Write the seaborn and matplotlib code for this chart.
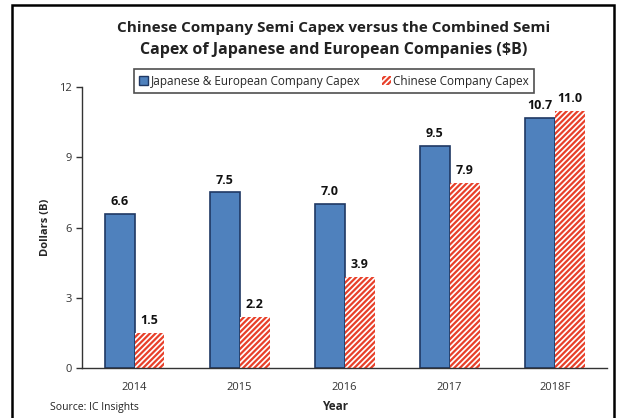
import matplotlib
matplotlib.use("Agg")
import matplotlib.pyplot as plt
import seaborn as sns
import pandas as pd
from matplotlib.patches import Rectangle, Patch
import matplotlib.ticker as mticker

years = ["2014", "2015", "2016", "2017", "2018F"]
japan_europe = [6.6, 7.5, 7.0, 9.5, 10.7]
chinese = [1.5, 2.2, 3.9, 7.9, 11.0]
series_names = ["Japanese & European Company Capex", "Chinese Company Capex"]
y_ticks = [0, 3, 6, 9, 12]

df = pd.DataFrame({
    "Year": years * 2,
    "Value": japan_europe + chinese,
    "Series": [series_names[0]] * len(years) + [series_names[1]] * len(years),
})

sns.set_style("white")
plt.rcParams['font.family'] = ['Open Sans', 'DejaVu Sans']
plt.rcParams['hatch.linewidth'] = 1.6

fig = plt.figure(figsize=(6.26, 4.18), dpi=100)
ax = fig.add_axes([0.131, 0.1196, 0.839, 0.672])

blue = "#4f81bd"
red = "#e8402a"
sns.barplot(data=df, x="Year", y="Value", hue="Series", order=years,
            hue_order=series_names, palette=[blue, "white"], width=0.57,
            gap=0, ax=ax, legend=False, saturation=1)

n = len(years)
for i, p in enumerate(ax.patches[:2 * n]):
    if i < n:
        p.set_edgecolor("#1f3864")
        p.set_linewidth(1.2)
    else:
        p.set_facecolor("white")
        p.set_edgecolor(red)
        p.set_hatch("//////")
        p.set_linewidth(0)

for i, p in enumerate(ax.patches[:2 * n]):
    h = p.get_height()
    ax.text(p.get_x() + p.get_width() / 2, h + 0.25, f"{h:.1f}",
            ha="center", va="bottom", fontsize=9, fontweight="bold", color="#111111")

ax.set_xlim(-0.5, n - 0.5)
ax.set_ylim(0, 12)
ax.set_yticks(y_ticks)
ax.set_yticklabels([str(t) for t in y_ticks], fontsize=8, color="#333333")
ax.set_xticks(range(n))
ax.set_xticklabels(years, fontsize=8, color="#333333")
ax.xaxis.set_minor_locator(mticker.FixedLocator([i - 0.5 for i in range(n + 1)]))
ax.tick_params(axis="x", which="major", length=0, pad=10)
ax.tick_params(axis="x", which="minor", length=4, width=1, direction="out", color="#333333")
ax.tick_params(axis="y", length=4, width=1, direction="out", color="#333333", left=True)
for s in ["top", "right"]:
    ax.spines[s].set_visible(False)
for s in ["left", "bottom"]:
    ax.spines[s].set_color("#333333")
    ax.spines[s].set_linewidth(1)
ax.set_xlabel("")
ax.set_ylabel("Dollars (B)", fontsize=8, fontweight="bold", labelpad=6)

fig.text(0.535, 0.012, "Year", ha="center", va="bottom",
         fontsize=8.5, fontweight="bold")
fig.text(0.08, 0.012, "Source: IC Insights", ha="left", va="bottom", fontsize=7.5, color="#222222")

fig.text(0.533, 1 - 28 / 418, "Chinese Company Semi Capex versus the Combined Semi",
         ha="center", va="center", fontsize=11, fontweight="bold", color="#222222")
fig.text(0.533, 1 - 50 / 418, "Capex of Japanese and European Companies ($B)",
         ha="center", va="center", fontsize=11.5, fontweight="bold", color="#222222")

handles = [Patch(facecolor=blue, edgecolor="#1f3864", label=series_names[0]),
           Patch(facecolor="white", edgecolor=red, hatch="//////", linewidth=0, label=series_names[1])]
leg = fig.legend(handles=handles, loc="center", bbox_to_anchor=(534 / 626, 1 - 81 / 418), ncol=2,
                 frameon=True, fontsize=8.5, handlelength=0.8, handleheight=0.8,
                 handletextpad=0.2, columnspacing=1.8, borderpad=0.45, borderaxespad=0,
                 fancybox=False)
leg.set_bbox_to_anchor((334 / 626, 1 - 81 / 418), transform=fig.transFigure)
leg.get_frame().set_edgecolor("#222222")
leg.get_frame().set_linewidth(1.2)

fig.patches.append(Rectangle((12 / 626, -0.01), (614 - 12) / 626, 1 - 5 / 418 + 0.01,
                             transform=fig.transFigure, fill=False, edgecolor="black",
                             linewidth=1.8, zorder=10))

fig.savefig("out.png", dpi=100)
